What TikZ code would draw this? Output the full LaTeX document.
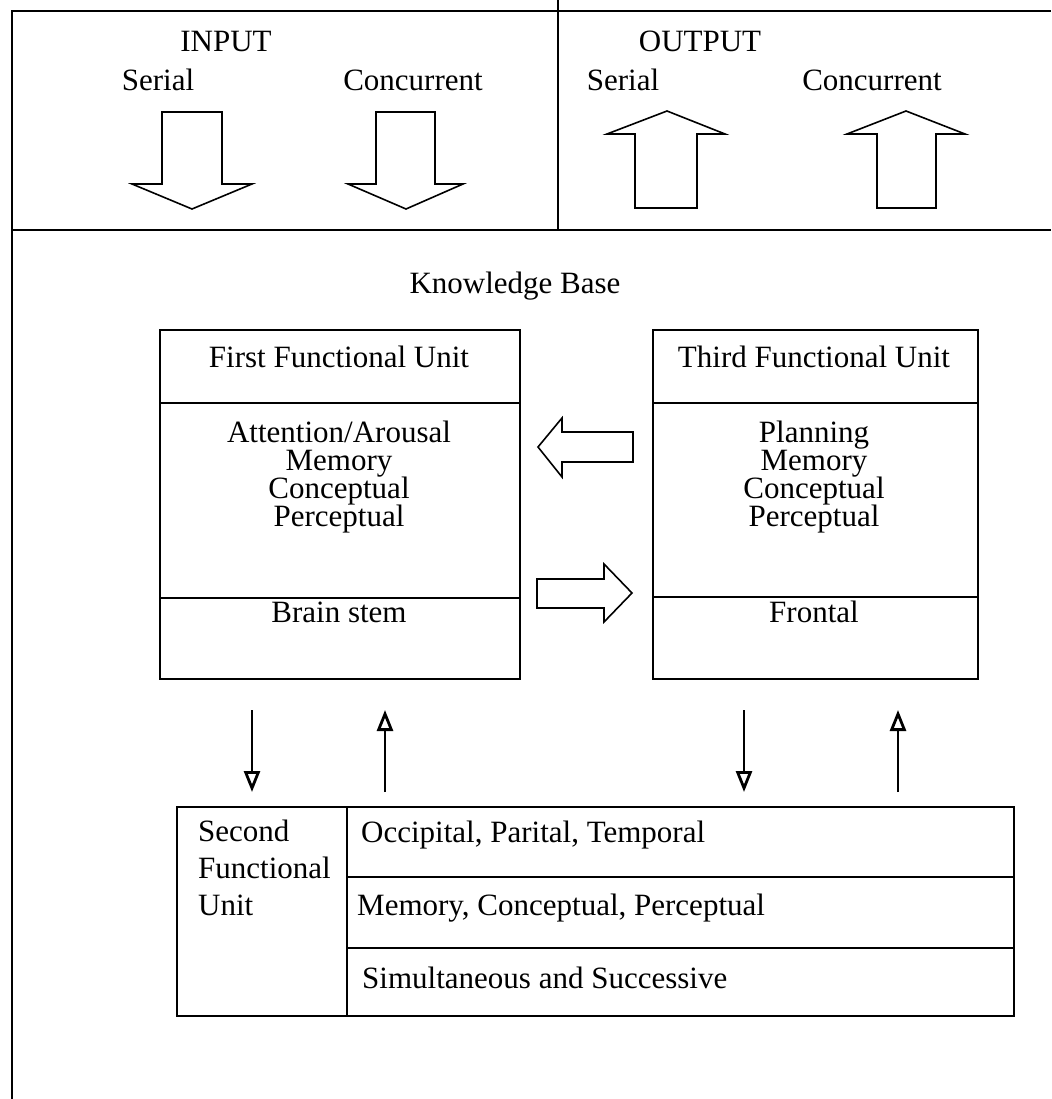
\documentclass[tikz,border=0pt]{standalone}
\usepackage{fontspec}
\setmainfont{Liberation Serif}
\usetikzlibrary{arrows.meta}
\begin{document}
\begin{tikzpicture}[x=1pt,y=-1pt,line join=miter,
  lbl/.style={inner sep=0pt,anchor=base,font=\fontsize{31}{29}\selectfont},
  lblw/.style={lbl,anchor=base west},
  frameline/.style={line width=1.8pt},
  boxline/.style={line width=1.6pt},
  unitbox/.style={draw,boxline,inner sep=0pt,anchor=north west},
  blockarrow/.style={line width=1.6pt,fill=white},
  linkarrow/.style={line width=1.3pt,-{Triangle[open,length=21pt,width=16pt,line width=2.8pt]}}
]
\useasboundingbox (0,0) rectangle (1051,1099);

% outer frame and the input / output band
\draw[frameline] (12,1099) -- (12,11) -- (1051,11);
\draw[frameline] (12,230) -- (1051,230);
\draw[boxline] (558,0) -- (558,230);

\node[lbl] (input)   at (226,52) {INPUT};
\node[lbl] (inser)   at (158,91) {Serial};
\node[lbl] (inconc)  at (413,91) {Concurrent};
\node[lbl] (output)  at (700,52) {OUTPUT};
\node[lbl] (outser)  at (623,91) {Serial};
\node[lbl] (outconc) at (872,91) {Concurrent};

% block arrows: input (down) and output (up)
\draw[blockarrow] (162,112) -- (222,112) -- (222,184) -- (252,184) -- (192,209) -- (132,184) -- (162,184) -- cycle;
\draw[blockarrow] (376,112) -- (435,112) -- (435,184) -- (463,184) -- (406,209) -- (348,184) -- (376,184) -- cycle;
\draw[blockarrow] (635,208) -- (697,208) -- (697,134) -- (725,134) -- (667,111) -- (607,134) -- (635,134) -- cycle;
\draw[blockarrow] (877,208) -- (936,208) -- (936,134) -- (965,134) -- (906,111) -- (847,134) -- (877,134) -- cycle;

\node[lbl] (kb) at (515,293) {Knowledge Base};

% first functional unit
\node[unitbox,minimum width=360pt,minimum height=349pt] (first) at (159,329) {};
\draw[boxline] (first.west |- 0,403) -- (first.east |- 0,403);
\draw[boxline] (first.west |- 0,598) -- (first.east |- 0,598);
\node[lbl] (firsthead) at (339,367) {First Functional Unit};
\node[lbl] (f1) at (339,442) {Attention/Arousal};
\node[lbl] (f2) at (339,470) {Memory};
\node[lbl] (f3) at (339,498) {Conceptual};
\node[lbl] (f4) at (339,526) {Perceptual};
\node[lbl] (fbase) at (339,622) {Brain stem};

% third functional unit
\node[unitbox,minimum width=325pt,minimum height=349pt] (third) at (652,329) {};
\draw[boxline] (third.west |- 0,403) -- (third.east |- 0,403);
\draw[boxline] (third.west |- 0,597) -- (third.east |- 0,597);
\node[lbl] (thirdhead) at (814,367) {Third Functional Unit};
\node[lbl] (t1) at (814,442) {Planning};
\node[lbl] (t2) at (814,470) {Memory};
\node[lbl] (t3) at (814,498) {Conceptual};
\node[lbl] (t4) at (814,526) {Perceptual};
\node[lbl] (tbase) at (814,622) {Frontal};

% exchange between first and third units
\draw[blockarrow] (633,432) -- (562,432) -- (562,418) -- (538,447) -- (562,477) -- (562,462) -- (633,462) -- cycle;
\draw[blockarrow] (537,579) -- (604,579) -- (604,564) -- (632,593) -- (604,622) -- (604,608) -- (537,608) -- cycle;

% second functional unit
\node[unitbox,minimum width=837pt,minimum height=209pt] (second) at (176,806) {};
\draw[boxline] (347,0 |- second.north) -- (347,0 |- second.south);
\draw[boxline] (347,877) -- (second.east |- 0,877);
\draw[boxline] (347,948) -- (second.east |- 0,948);
\node[lblw] (s1) at (198,841) {Second};
\node[lblw] (s2) at (198,878) {Functional};
\node[lblw] (s3) at (198,915) {Unit};
\node[lblw] (r1) at (361,842) {Occipital, Parital, Temporal};
\node[lblw] (r2) at (357,915) {Memory, Conceptual, Perceptual};
\node[lblw] (r3) at (362,988) {Simultaneous and Successive};

% links between the units and the second unit
\coordinate (d1s) at (252,710); \coordinate (d1e) at (252,792);
\coordinate (u1s) at (385,792); \coordinate (u1e) at (385,710);
\coordinate (d2s) at (744,710); \coordinate (d2e) at (744,792);
\coordinate (u2s) at (898,792); \coordinate (u2e) at (898,710);
\draw[linkarrow] (d1s) -- (d1e);
\draw[linkarrow] (u1s) -- (u1e);
\draw[linkarrow] (d2s) -- (d2e);
\draw[linkarrow] (u2s) -- (u2e);
\end{tikzpicture}
\end{document}
